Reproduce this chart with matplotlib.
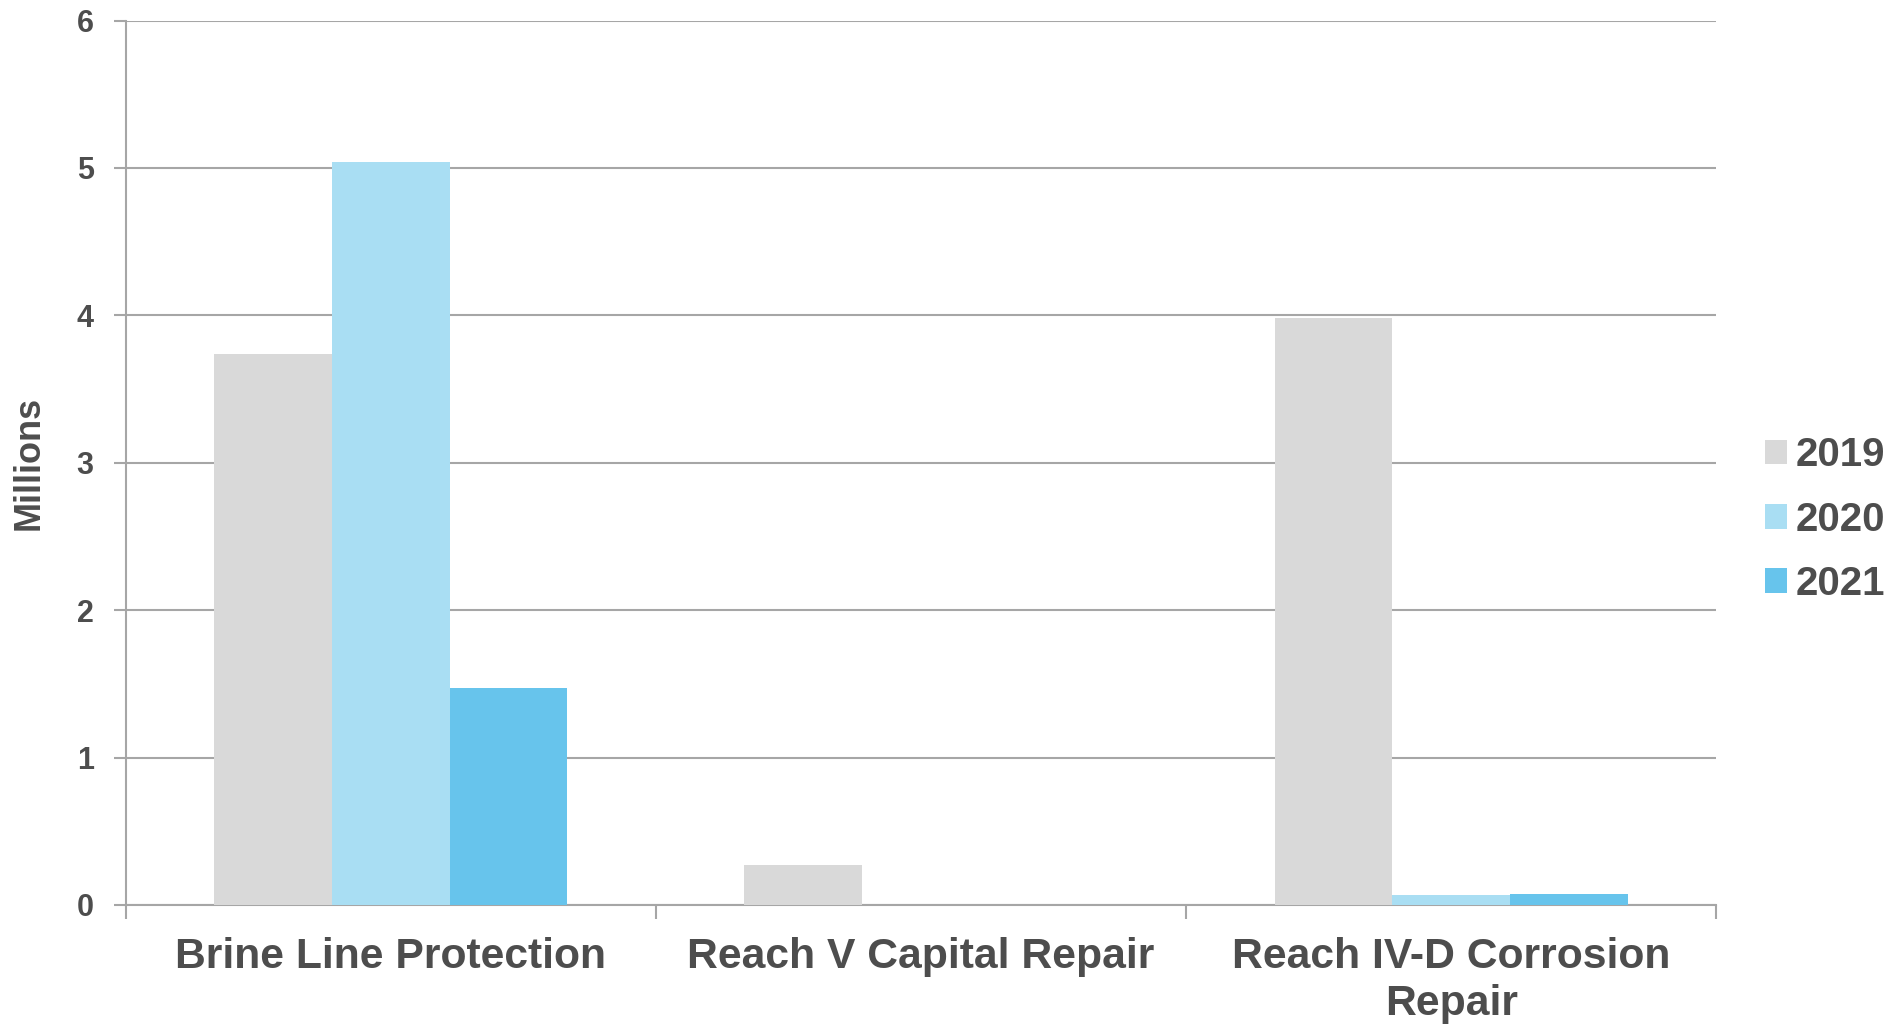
import numpy as np
import matplotlib
matplotlib.use("Agg")
from matplotlib import pyplot as plt

categories = ["Brine Line Protection", "Reach V Capital Repair", "Reach IV-D Corrosion\nRepair"]
years = ["2019", "2020", "2021"]
vals_2019 = [3.74, 0.27, 3.98]
vals_2020 = [5.04, 0.0, 0.07]
vals_2021 = [1.47, 0.0, 0.075]
colors = ["#D9D9D9", "#A9DEF3", "#67C4EC"]

plt.rcParams["font.family"] = ["Liberation Sans", "DejaVu Sans"]
plt.rcParams["font.weight"] = "bold"
plt.rcParams["axes.labelweight"] = "bold"
txt = "#4D4D4D"
grid = "#A6A6A6"

fig = plt.figure(figsize=(18.95, 10.26), dpi=100)
ax = fig.add_axes([0.0663, 0.118, 0.8394, 0.862])

x = np.arange(len(categories))
w = 0.222
for i, (yr, v) in enumerate(zip(years, [vals_2019, vals_2020, vals_2021])):
    ax.bar(x + (i - 1) * w, v, w, color=colors[i], label=yr, zorder=3)

ax.set_xlim(-0.5, len(categories) - 0.5)
ax.set_ylim(0, 6)
ax.set_yticks(range(7))
ax.yaxis.grid(True, color=grid, linewidth=1.5, zorder=0)
ax.tick_params(axis="y", length=9, width=1.5, color=grid, labelsize=22, labelcolor=txt, pad=14)

ax.set_xticks(x)
ax.set_xticklabels(categories, fontsize=30.7, color=txt, linespacing=1.22)
ax.tick_params(axis="x", length=0, pad=23)
ax.set_xticks(np.arange(len(categories) + 1) - 0.5, minor=True)
ax.tick_params(axis="x", which="minor", length=10, width=1.5, color=grid)

for s in ["top", "right"]:
    ax.spines[s].set_visible(False)
for s in ["left", "bottom"]:
    ax.spines[s].set_color(grid)
    ax.spines[s].set_linewidth(1.5)

ax.set_ylabel("Millions", fontsize=26, color=txt, labelpad=22)

leg = fig.legend(*ax.get_legend_handles_labels(), loc="center left",
                 bbox_to_anchor=(0.9314, 0.4935), bbox_transform=fig.transFigure,
                 frameon=False, fontsize=29, handlelength=0.55, handleheight=0.55,
                 handletextpad=0.22, labelspacing=0.65, borderpad=0, borderaxespad=0)
for t in leg.get_texts():
    t.set_color(txt)

fig.savefig("out.png", dpi=100)
